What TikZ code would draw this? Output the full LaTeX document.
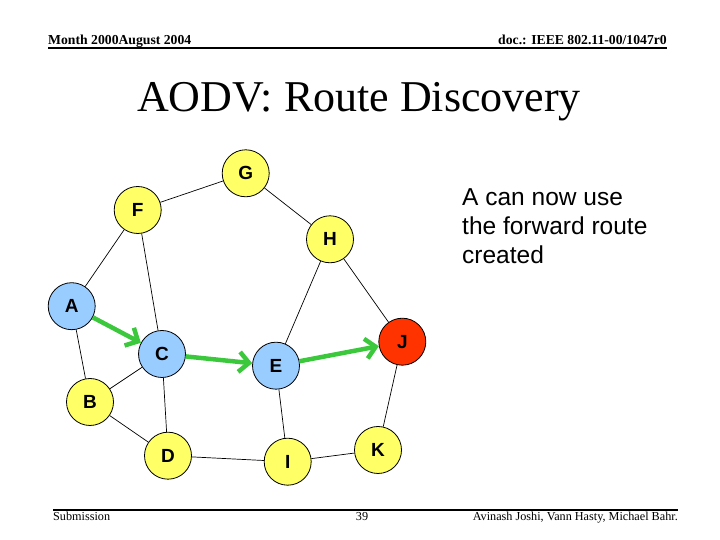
\documentclass[tikz,border=0pt]{standalone}
\usepackage{fontspec}
\setmainfont{Liberation Serif}
\newfontfamily\arialfont{Liberation Sans}
\usetikzlibrary{arrows.meta}
\definecolor{nyellow}{HTML}{FFFF66}
\definecolor{nblue}{HTML}{99CCFF}
\definecolor{nred}{HTML}{FF3300}
\definecolor{agreen}{HTML}{3CC83C}
\tikzset{
  nd/.style={circle,draw=black,line width=0.8pt,minimum size=47pt,inner sep=0pt,
    font=\arialfont\fontsize{19}{19}\selectfont\bfseries},
  yel/.style={nd,fill=nyellow},
  blu/.style={nd,fill=nblue},
  rd/.style={nd,fill=nred},
  edge/.style={draw=black,line width=0.7pt},
  fwd/.style={draw=agreen,line width=4.5pt,-{Straight Barb[length=10pt,width=20pt]}},
  hdr/.style={font=\fontsize{13.7}{13.7}\selectfont\bfseries,inner sep=0pt},
  ftr/.style={font=\fontsize{12.2}{12.2}\selectfont,inner sep=0pt},
}
\begin{document}
\begin{tikzpicture}[x=1pt,y=1pt]
\useasboundingbox (0,0) rectangle (720,540);
% header
\node[hdr,anchor=base west] (hl) at (48,495) {Month 2000August 2004};
\node[hdr,anchor=base east] (hr) at (667,495) {doc.: IEEE 802.11-00/1047r0};
\coordinate (h1) at (48,492);
\coordinate (h2) at (667,492);
\draw[line width=1.6pt] (h1) -- (h2);
% title
\node[font=\fontsize{44}{44}\selectfont,inner sep=0pt,anchor=base] (title) at (359,428) {AODV: Route Discovery};
% footer
\coordinate (f1) at (53,30);
\coordinate (f2) at (678,30);
\draw[line width=1.6pt] (f1) -- (f2);
\node[ftr,anchor=base west] (fl) at (53,19) {Submission};
\node[ftr,anchor=base] (fc) at (362,19) {39};
\node[ftr,anchor=base east] (fr) at (678,19) {Avinash Joshi, Vann Hasty, Michael Bahr.};
% nodes
\node[yel] (G) at (245.7,366.7) {G};
\node[yel] (F) at (137.7,330) {F};
\node[yel] (H) at (330,300.7) {H};
\node[blu] (A) at (71.7,233.8) {A};
\node[blu] (C) at (162,186) {C};
\node[blu] (E) at (276,174.3) {E};
\node[rd]  (J) at (402.3,198.3) {J};
\node[yel] (B) at (90,138) {B};
\node[yel] (D) at (168,84.3) {D};
\node[yel] (I) at (287.7,78.3) {I};
\node[yel] (K) at (378,90) {K};
% edges
\draw[edge] (G) -- (F);
\draw[edge] (G) -- (H);
\draw[edge] (F) -- (A);
\draw[edge] (F) -- (C);
\draw[edge] (H) -- (E);
\draw[edge] (H) -- (J);
\draw[edge] (A) -- (B);
\draw[edge] (B) -- (C);
\draw[edge] (B) -- (D);
\draw[edge] (C) -- (D);
\draw[edge] (D) -- (I);
\draw[edge] (E) -- (I);
\draw[edge] (I) -- (K);
\draw[edge] (K) -- (J);
% forward route
\draw[fwd] (A) -- (C);
\draw[fwd] (C) -- (E);
\draw[fwd] (E) -- (J);
% note
\node[font=\arialfont\fontsize{24.5}{29}\selectfont,align=left,anchor=north west,inner sep=0pt] (note) at (462,352)
  {A can now use\\the forward route\\created};
\end{tikzpicture}
\end{document}
